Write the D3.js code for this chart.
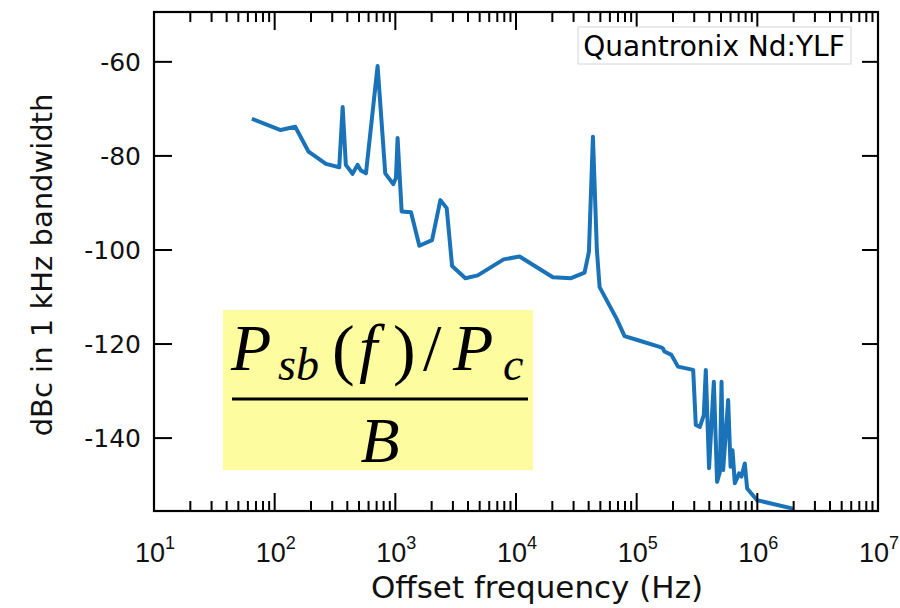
<!DOCTYPE html>
<meta charset="utf-8">
<style>
body { margin: 0; background: #fff; }
svg { display: block; }
.frame { fill: none; stroke: #000; stroke-width: 2.2; }
.tick line { stroke: #000; stroke-width: 2; }
.ylab { font: 25px "DejaVu Sans", sans-serif; fill: #111; }
.xlab { font: 27px "Liberation Sans", sans-serif; fill: #111; }
.title { font: 31px "DejaVu Sans", sans-serif; fill: #111; }
.series { fill: none; stroke: #1a73b8; stroke-width: 4; stroke-linejoin: round; }
.legend rect { fill: #fff; stroke: #d6d6d6; stroke-width: 1; }
.legend text { font: 28px "DejaVu Sans", sans-serif; fill: #000; }
.formula text { font-family: "Liberation Serif", "DejaVu Serif", serif; fill: #000; }
</style>
<body>
<script src="https://cdnjs.cloudflare.com/ajax/libs/d3/7.8.5/d3.min.js"></script>
<script>
// offset frequency (Hz) and sideband level (dBc in 1 kHz bandwidth)
var freq = [64.7, 112, 148, 191, 266, 343, 366, 389, 442, 486, 519, 571, 713, 825, 961, 1012, 1044,
  1128, 1349, 1581, 2015, 2362, 2665, 2953, 3808, 4817, 7900, 10700, 20200, 28600, 37000, 40200,
  43400, 46800, 49300, 67800, 79400, 106000, 155000, 165000, 170000, 194000, 220000, 294000,
  309000, 334000, 360000, 374000, 398000, 436000, 464000, 489000, 505000, 521000, 573000, 600000,
  623000, 651000, 706000, 738000, 787000, 823000, 995000, 1980000];
var level = [-72.1, -74.5, -73.8, -79.1, -81.7, -82.4, -69.6, -81.9, -83.8, -81.9, -83.1, -83.7, -60.9,
  -83.7, -86.0, -84.7, -76.2, -91.8, -92.0, -99.1, -97.9, -89.4, -91.1, -103.4, -106.0, -105.4,
  -102.0, -101.4, -105.8, -106.0, -104.8, -100.4, -75.9, -100.0, -107.9, -114.5, -118.3, -119.3,
  -120.6, -120.9, -121.6, -122.3, -124.8, -125.5, -137.2, -137.6, -135.1, -125.5, -146.4, -128.0,
  -149.3, -147.2, -128.0, -146.8, -131.9, -146.1, -142.6, -149.6, -147.5, -148.2, -145.4, -150.7,
  -153.2, -155.0];
var yTicks = [-60, -80, -100, -120, -140];
var decades = [1, 2, 3, 4, 5, 6, 7];
var legendText = "Quantronix Nd:YLF";

var W = 900, H = 608;
var margin = {top: 12, right: 22, bottom: 97, left: 154},
  width = W - margin.left - margin.right,
  height = H - margin.top - margin.bottom;

var x = d3.scaleLog().domain([10, 1e7]).range([0, width]);
var y = d3.scaleLinear().domain([-155.5, -49.4]).range([height, 0]);

var svg = d3.select("body").append("svg")
  .attr("width", W).attr("height", H);
var g = svg.append("g")
  .attr("transform", "translate(" + margin.left + "," + margin.top + ")");

// yellow formula box
var fbox = svg.append("g").attr("class", "formula");
fbox.append("rect")
  .attr("x", 223).attr("y", 310).attr("width", 310).attr("height", 160)
  .attr("fill", "#fdfc9e");
function glyph(txt, gx, gy, size, italic) {
  fbox.append("text").attr("x", gx).attr("y", gy)
    .style("font-size", size + "px")
    .style("font-style", italic ? "italic" : "normal")
    .text(txt);
}
glyph("P", 231, 370, 66, true);
glyph("s", 278, 380, 46, true);
glyph("b", 296, 380, 46, true);
glyph("(", 332, 372, 68, false);
glyph("f", 359, 370, 66, true);
glyph(")", 393, 372, 68, false);
glyph("/", 423, 370, 66, false);
glyph("P", 453, 370, 66, true);
glyph("c", 503, 380, 46, true);
fbox.append("line")
  .attr("x1", 232).attr("x2", 528).attr("y1", 399).attr("y2", 399)
  .attr("stroke", "#000").attr("stroke-width", 3);
fbox.append("text")
  .attr("x", 380).attr("y", 462)
  .attr("text-anchor", "middle")
  .style("font-size", "64px").style("font-style", "italic")
  .text("B");

// data line
var line = d3.line()
  .x(function(d, i) { return x(freq[i]); })
  .y(function(d) { return y(d); });
g.append("path").attr("class", "series").attr("d", line(level));

// frame
g.append("rect").attr("class", "frame")
  .attr("width", width).attr("height", height);

// x ticks, inward on bottom and top
var majorX = decades.map(function(p) { return Math.pow(10, p); });
var minorX = [];
decades.slice(0, -1).forEach(function(p) {
  for (var k = 2; k < 10; k++) minorX.push(k * Math.pow(10, p));
});
var xt = g.append("g").attr("class", "tick");
majorX.forEach(function(v) {
  xt.append("line").attr("x1", x(v)).attr("x2", x(v)).attr("y1", height).attr("y2", height - 18);
  xt.append("line").attr("x1", x(v)).attr("x2", x(v)).attr("y1", 0).attr("y2", 18);
});
minorX.forEach(function(v) {
  xt.append("line").attr("x1", x(v)).attr("x2", x(v)).attr("y1", height).attr("y2", height - 10);
  xt.append("line").attr("x1", x(v)).attr("x2", x(v)).attr("y1", 0).attr("y2", 10);
});

// y ticks, inward on left and right
var yt = g.append("g").attr("class", "tick");
yTicks.forEach(function(v) {
  yt.append("line").attr("x1", 0).attr("x2", 18).attr("y1", y(v)).attr("y2", y(v));
  yt.append("line").attr("x1", width).attr("x2", width - 16).attr("y1", y(v)).attr("y2", y(v));
});

// tick labels
g.selectAll(".ylab").data(yTicks).enter().append("text")
  .attr("class", "ylab")
  .attr("x", -13).attr("y", function(d) { return y(d); })
  .attr("dy", "0.36em").attr("text-anchor", "end")
  .text(function(d) { return "-" + Math.abs(d); });

var xl = g.selectAll(".xlab").data(decades).enter().append("text")
  .attr("class", "xlab")
  .attr("x", function(d) { return x(Math.pow(10, d)) + 1; })
  .attr("y", height + 51)
  .attr("text-anchor", "middle");
xl.append("tspan").text("10");
xl.append("tspan").attr("dy", -13).style("font-size", "18px").text(function(d) { return d; });

// axis titles
svg.append("text").attr("class", "title")
  .attr("x", 537).attr("y", 598)
  .attr("text-anchor", "middle")
  .text("Offset frequency (Hz)");
svg.append("text").attr("class", "title")
  .attr("transform", "translate(52," + 265 + ") rotate(-90)")
  .attr("text-anchor", "middle")
  .style("font-size", "29px")
  .text("dBc in 1 kHz bandwidth");

// legend
var lg = svg.append("g").attr("class", "legend");
lg.append("rect").attr("x", 578).attr("y", 27).attr("width", 273).attr("height", 37);
lg.append("text").attr("x", 714).attr("y", 56).attr("text-anchor", "middle").text(legendText);
</script>
</body>
